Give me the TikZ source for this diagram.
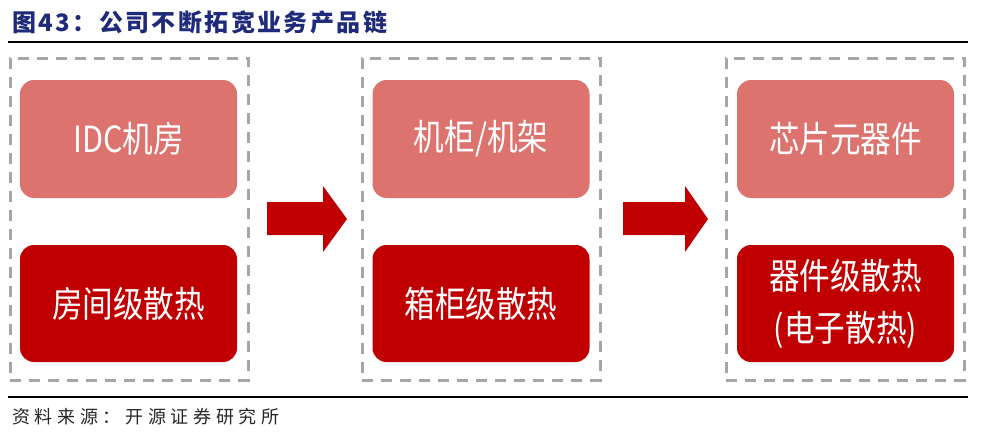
\documentclass[tikz,border=0pt]{standalone}
\usepackage{fontspec}
\newfontfamily\boxfont[FakeStretch=0.85]{Noto Sans CJK SC}
\newfontfamily\titlefont[LetterSpace=10]{Noto Sans CJK SC}
\newfontfamily\srcfont[LetterSpace=26]{Noto Sans CJK SC}
\definecolor{lightred}{RGB}{221,115,110}
\definecolor{darkred}{RGB}{192,0,0}
\definecolor{dashgray}{RGB}{166,166,166}
\definecolor{titleblue}{RGB}{31,43,122}
\tikzset{
  group/.style={draw=dashgray, line width=3pt, dash pattern=on 11pt off 8pt, minimum width=238pt, minimum height=322pt, inner sep=0pt},
  topbox/.style={fill=lightred, rounded corners=14pt, minimum width=217pt, minimum height=118pt, inner sep=0pt, text=white, font=\boxfont\fontsize{36}{52}\selectfont, align=center},
  botbox/.style={fill=darkred, rounded corners=14pt, minimum width=217pt, minimum height=117pt, inner sep=0pt, text=white, font=\boxfont\fontsize{36}{52}\selectfont, align=center},
  flowarrow/.style={fill=darkred},
  rule/.style={line width=1.5pt, black}
}
\begin{document}
\begin{tikzpicture}[x=1pt,y=-1pt]
\useasboundingbox (0,0) rectangle (1000,442);
\node[anchor=base west, inner sep=0pt, text=titleblue, font=\titlefont\bfseries\fontsize{24}{28}\selectfont] (title) at (12,31) {图43：公司不断拓宽业务产品链};
\coordinate (r1a) at (8,42);
\coordinate (r1b) at (968,42);
\draw[rule] (r1a) -- (r1b);
\node[group] (g1) at (129,219) {};
\node[group] (g2) at (481,219) {};
\node[group] (g3) at (845,219) {};
\node[topbox] (t1) at (128.5,139) {IDC机房};
\node[topbox] (t2) at (481,139) {机柜/机架};
\node[topbox] (t3) at (845.5,139) {芯片元器件};
\node[botbox] (b1) at (128.5,303.5) {房间级散热};
\node[botbox] (b2) at (481,303.5) {箱柜级散热};
\node[botbox] (b3) at (845.5,303.5) {器件级散热\\(电子散热)};
\fill[flowarrow] (267,202) -- (323,202) -- (323,186) -- (347,219) -- (323,252) -- (323,235) -- (267,235) -- cycle;
\fill[flowarrow] (623,202) -- (685,202) -- (685,186) -- (708,219) -- (685,252) -- (685,235) -- (623,235) -- cycle;
\coordinate (r2a) at (8,397);
\coordinate (r2b) at (968,397);
\draw[rule] (r2a) -- (r2b);
\node[anchor=base west, inner sep=0pt, text=black!85, font=\srcfont\fontsize{18}{22}\selectfont] (src) at (12,423) {资料来源：开源证券研究所};
\end{tikzpicture}
\end{document}
